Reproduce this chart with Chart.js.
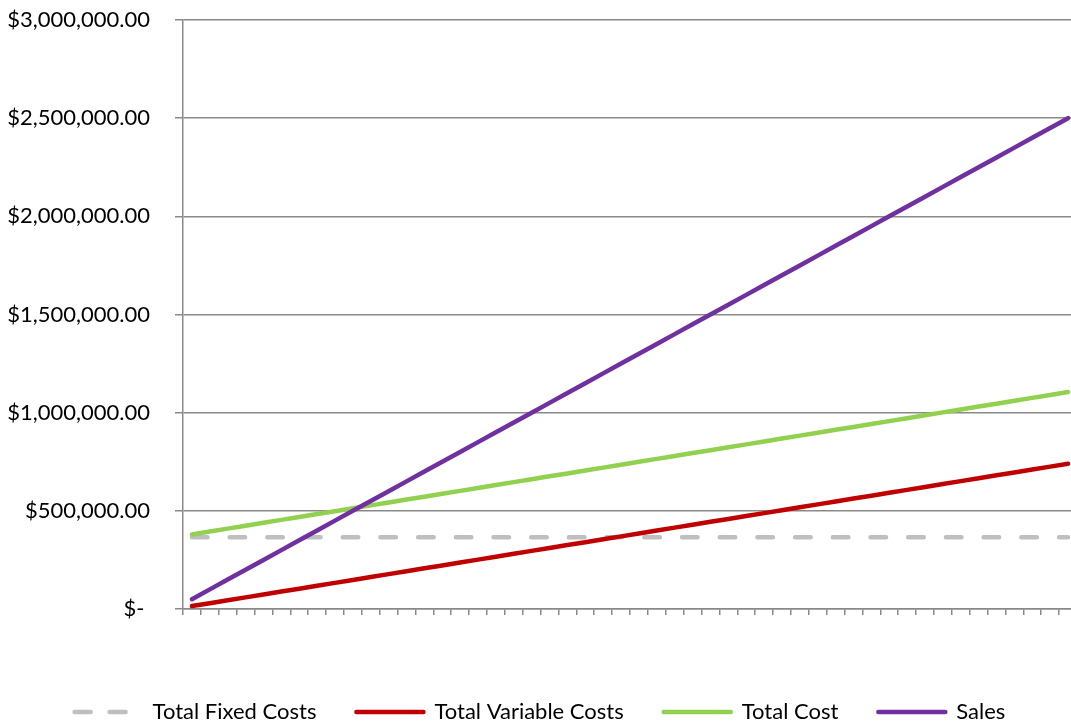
<!DOCTYPE html>
<html>
<head>
<meta charset="utf-8">
<script src="https://cdn.jsdelivr.net/npm/chart.js@4/dist/chart.umd.min.js"></script>
<style>
  html, body { margin: 0; padding: 0; background: #fff; overflow: hidden; }
  #wrap { position: absolute; left: 0; top: 0; width: 1071px; height: 723px; overflow: hidden; }
  canvas { position: absolute; left: 0; top: 0; }
</style>
</head>
<body>
<div id="wrap"><canvas id="c" width="1077" height="733"></canvas></div>
<script>
const categories = [1,2,3,4,5,6,7,8,9,10,11,12,13,14,15,16,17,18,19,20,21,22,23,24,25,26,27,28,29,30,31,32,33,34,35,36,37,38,39,40,41,42,43,44,45,46,47,48,49,50];

const totalFixedCosts = [365000,365000,365000,365000,365000,365000,365000,365000,365000,365000,365000,365000,365000,365000,365000,365000,365000,365000,365000,365000,365000,365000,365000,365000,365000,365000,365000,365000,365000,365000,365000,365000,365000,365000,365000,365000,365000,365000,365000,365000,365000,365000,365000,365000,365000,365000,365000,365000,365000,365000];

const totalVariableCosts = [14800,29600,44400,59200,74000,88800,103600,118400,133200,148000,162800,177600,192400,207200,222000,236800,251600,266400,281200,296000,310800,325600,340400,355200,370000,384800,399600,414400,429200,444000,458800,473600,488400,503200,518000,532800,547600,562400,577200,592000,606800,621600,636400,651200,666000,680800,695600,710400,725200,740000];

const totalCost = [379800,394600,409400,424200,439000,453800,468600,483400,498200,513000,527800,542600,557400,572200,587000,601800,616600,631400,646200,661000,675800,690600,705400,720200,735000,749800,764600,779400,794200,809000,823800,838600,853400,868200,883000,897800,912600,927400,942200,957000,971800,986600,1001400,1016200,1031000,1045800,1060600,1075400,1090200,1105000];

const sales = [50000,100000,150000,200000,250000,300000,350000,400000,450000,500000,550000,600000,650000,700000,750000,800000,850000,900000,950000,1000000,1050000,1100000,1150000,1200000,1250000,1300000,1350000,1400000,1450000,1500000,1550000,1600000,1650000,1700000,1750000,1800000,1850000,1900000,1950000,2000000,2050000,2100000,2150000,2200000,2250000,2300000,2350000,2400000,2450000,2500000];

const seriesNames = ['Total Fixed Costs', 'Total Variable Costs', 'Total Cost', 'Sales'];
const yTickLabels = ['$- ', '$500,000.00', '$1,000,000.00', '$1,500,000.00', '$2,000,000.00', '$2,500,000.00', '$3,000,000.00'];

function draw() {
  const FONT = 'Lato';
  Chart.defaults.font.family = FONT;
  Chart.defaults.font.size = 22;
  Chart.defaults.color = '#000';

  const gridColor = '#898989';
  const LW = 4.5;

  const legendShift = {
    id: 'legendShift',
    afterLayout(chart) {
      if (chart.legend) { chart.legend.left += 1.5; chart.legend.right += 1.5; }
    }
  };

  new Chart(document.getElementById('c'), {
    type: 'line',
    data: {
      labels: categories,
      datasets: [
        { label: seriesNames[0], data: totalFixedCosts, borderColor: '#BFBFBF', backgroundColor: '#BFBFBF',
          borderWidth: LW, borderDash: [15.5, 22.2], borderCapStyle: 'round', pointRadius: 0, tension: 0, order: 4 },
        { label: seriesNames[1], data: totalVariableCosts, borderColor: '#C00000', backgroundColor: '#C00000',
          borderWidth: LW, borderCapStyle: 'round', pointRadius: 0, tension: 0, order: 3 },
        { label: seriesNames[2], data: totalCost, borderColor: '#92D050', backgroundColor: '#92D050',
          borderWidth: LW, borderCapStyle: 'round', pointRadius: 0, tension: 0, order: 2 },
        { label: seriesNames[3], data: sales, borderColor: '#7030A0', backgroundColor: '#7030A0',
          borderWidth: LW, borderCapStyle: 'round', pointRadius: 0, tension: 0, order: 1 }
      ]
    },
    options: {
      responsive: false,
      devicePixelRatio: 1,
      animation: false,
      layout: { padding: { top: 20, right: 0, left: 0, bottom: 0 } },
      plugins: {
        tooltip: { enabled: false },
        legend: {
          position: 'bottom',
          align: 'center',
          labels: {
            usePointStyle: true,
            pointStyle: 'line',
            pointStyleWidth: 67,
            padding: 40,
            color: '#000',
            font: { family: FONT, size: 22 },
            sort: (a, b) => a.datasetIndex - b.datasetIndex,
            generateLabels(chart) {
              const items = Chart.defaults.plugins.legend.labels.generateLabels(chart);
              items.forEach(it => {
                const ds = chart.data.datasets[it.datasetIndex];
                it.rotation = 180;
                it.pointStyle = 'line';
                it.lineWidth = LW;
                it.strokeStyle = ds.borderColor;
                it.fillStyle = ds.borderColor;
                it.lineCap = 'round';
                it.lineDash = ds.borderDash ? [16, 19] : [];
                it.lineDashOffset = 0;
              });
              return items;
            }
          }
        }
      },
      scales: {
        x: {
          type: 'category',
          offset: true,
          grid: { display: true, drawOnChartArea: false, drawTicks: true, tickLength: 6, offset: true, color: gridColor, lineWidth: 1.5 },
          border: { display: true, color: gridColor, width: 1.5 },
          ticks: { display: false, autoSkip: false },
          afterFit(s) { s.height = 52; s.paddingLeft = 0; s.paddingRight = 0; s.paddingTop = 0; s.paddingBottom = 0; }
        },
        y: {
          min: 0,
          max: 3000000,
          ticks: {
            stepSize: 500000,
            padding: 25,
            color: '#000',
            font: { family: FONT, size: 22 },
            callback: (v, i) => yTickLabels[i]
          },
          grid: { color: gridColor, lineWidth: 1.5, tickLength: 8, drawTicks: true },
          border: { display: true, color: gridColor, width: 1.5 },
          afterFit(s) { s.width = 183; s.paddingTop = 0; s.paddingBottom = 0; s.paddingLeft = 0; s.paddingRight = 0; }
        }
      }
    },
    plugins: [legendShift]
  });
}

if (document.fonts && document.fonts.load) {
  document.fonts.load('22px Lato').then(draw, draw);
} else {
  draw();
}
</script>
</body>
</html>
